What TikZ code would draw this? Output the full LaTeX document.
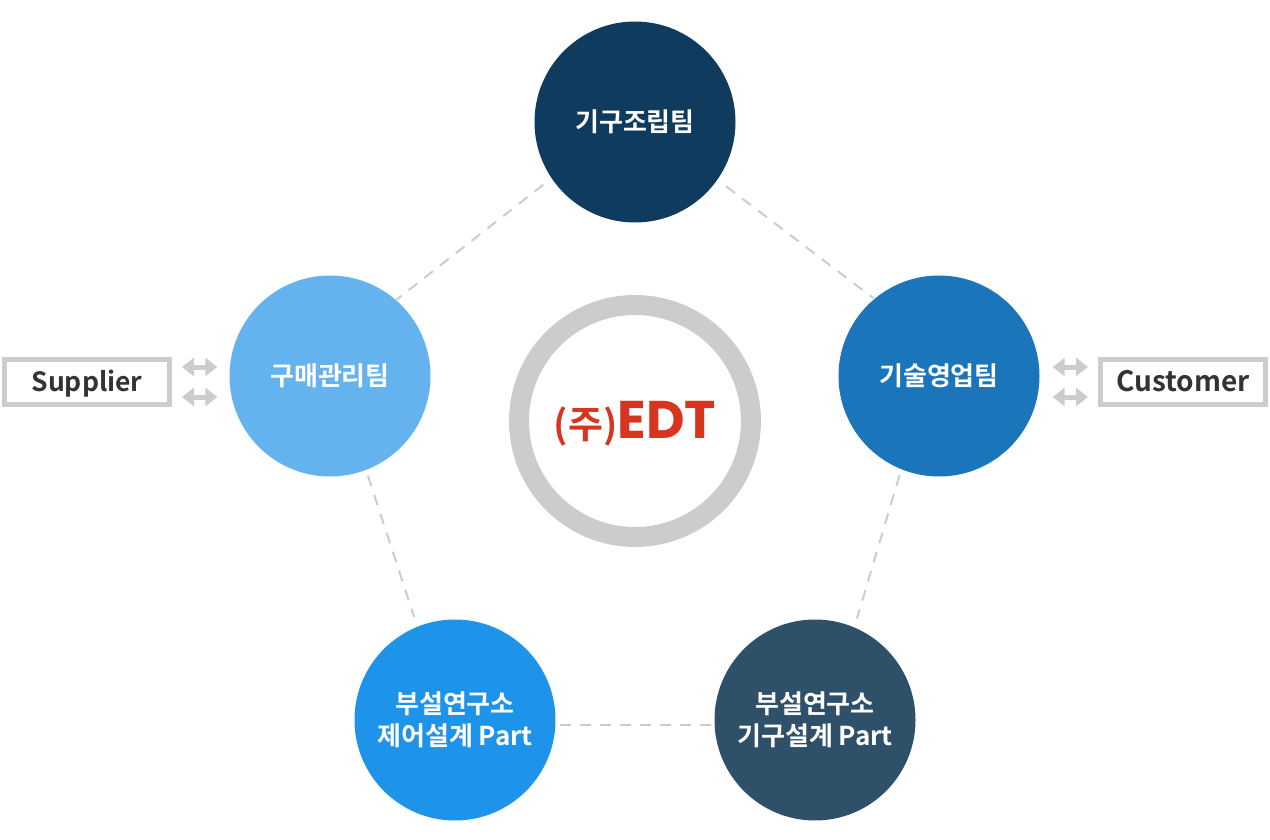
\documentclass[tikz,border=0pt]{standalone}
\usepackage{fontspec}
\usetikzlibrary{arrows.meta}
\newfontfamily\krfont{Noto Sans CJK KR}[BoldFont={Noto Sans CJK KR Bold}]
\newfontfamily\logofont{Poppins}
\definecolor{ctop}{HTML}{0F3B5F}
\definecolor{cright}{HTML}{1A75BB}
\definecolor{cleft}{HTML}{65B3EE}
\definecolor{cbl}{HTML}{1E93EA}
\definecolor{cbr}{HTML}{2E5169}
\definecolor{cgrey}{HTML}{CCCCCC}
\definecolor{cred}{HTML}{D7351F}
\definecolor{ctext}{HTML}{333333}
\tikzset{
  team/.style={circle,minimum size=201pt,inner sep=0pt,draw=none,text=white,align=center,
    font=\krfont\bfseries\fontsize{26}{32}\selectfont},
  party/.style={draw=cgrey,line width=5pt,fill=white,minimum width=165pt,minimum height=45pt,inner sep=0pt,
    text height=25pt,text depth=7pt,text=ctext},
  link/.style={draw=cgrey,line width=2pt,dash pattern=on 11pt off 9pt},
  twoway/.style={draw=cgrey,line width=5pt,{Triangle[length=12pt,width=18pt]}-{Triangle[length=12pt,width=18pt]}},
}
\begin{document}
\begin{tikzpicture}[x=1pt,y=-1pt]
\useasboundingbox (0,0) rectangle (1270,840);
\node[team,fill=ctop] (top) at (635,122) {기구조립팀};
\node[team,fill=cright] (right) at (939,376) {기술영업팀};
\node[team,fill=cleft] (left) at (330,376) {구매관리팀};
\node[team,fill=cbl] (bl) at (455,720) {부설연구소\\제어설계 Part};
\node[team,fill=cbr] (br) at (815,720) {부설연구소\\기구설계 Part};
\node[party,font=\krfont\bfseries\fontsize{26.5}{32}\selectfont] (sup) at (87,382) {Supplier};
\node[party,font=\krfont\bfseries\fontsize{28}{32}\selectfont] (cus) at (1183,382) {Customer};
\node[circle,draw=cgrey,line width=20pt,minimum size=232pt,inner sep=0pt,text=cred,
      text height=34pt,text depth=0pt] (edt) at (635,421)
  {\krfont\bfseries\fontsize{38}{40}\selectfont (주)\logofont\bfseries\fontsize{53}{55}\selectfont EDT};
\draw[link,shorten <=10.5pt] (top.214.4) -- (left.49.8);
\draw[link,shorten <=11pt,shorten >=1pt] (top.325.2) -- (right.130.2);
\draw[link,shorten <=6pt,shorten >=10pt] (left.291.3) -- (bl.112.9);
\draw[link,shorten <=6pt,shorten >=9pt] (right.248.7) -- (br.67.6);
\draw[link,shorten <=4pt,shorten >=2pt] ([yshift=-5pt]bl.east) -- ([yshift=-5pt]br.west);
\draw[twoway,shorten <=10pt,shorten >=12pt] ([yshift=15pt]sup.east) -- ([yshift=15pt]sup.east -| left.west);
\draw[twoway,shorten <=10pt,shorten >=12pt] ([yshift=-15pt]sup.east) -- ([yshift=-15pt]sup.east -| left.west);
\draw[twoway,shorten <=10pt,shorten >=13pt] ([yshift=15pt]cus.west) -- ([yshift=15pt]cus.west -| right.east);
\draw[twoway,shorten <=10pt,shorten >=13pt] ([yshift=-15pt]cus.west) -- ([yshift=-15pt]cus.west -| right.east);
\end{tikzpicture}
\end{document}
